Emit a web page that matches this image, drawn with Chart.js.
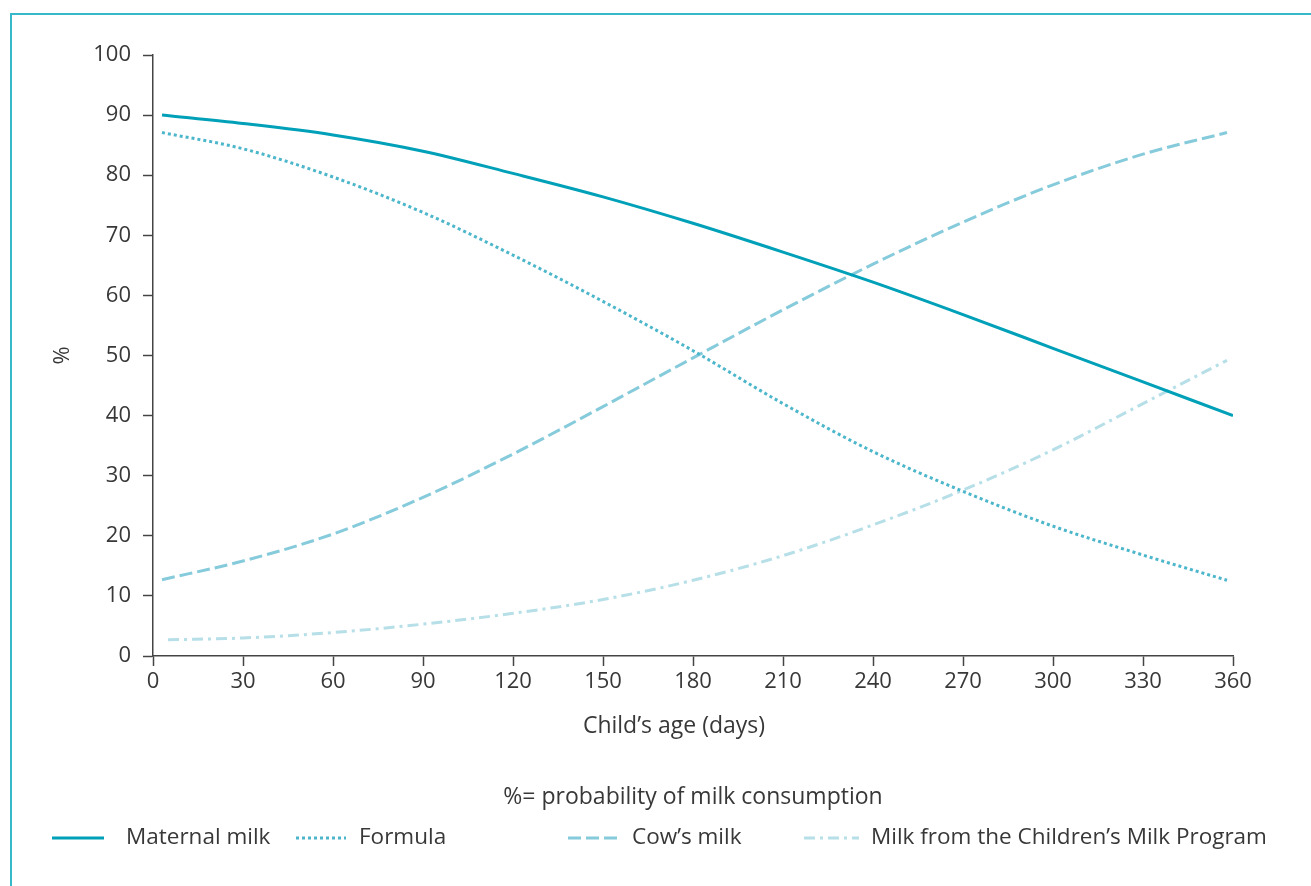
<!DOCTYPE html>
<html lang="en">
<head>
    <meta charset="UTF-8">
    <title>Milk consumption by child's age</title>
    <script src="https://cdn.jsdelivr.net/npm/chart.js"></script>
    <style>
        html, body {
            margin: 0;
            padding: 0;
            background: #fff;
            overflow: hidden;
        }
        .frame {
            position: absolute;
            left: 10px;
            top: 13px;
            width: 1400px;
            height: 1000px;
            border: 2px solid #35b9ca;
        }
        .chart-box {
            position: absolute;
            left: 0;
            top: 0;
            width: 1311px;
            height: 886px;
        }
    </style>
</head>
<body>
    <div class="frame"></div>
    <div class="chart-box">
        <canvas id="milkChart"></canvas>
    </div>

    <script>
        // values (x = child's age in days, y = %)
        const seriesNames = ['Maternal milk', 'Formula', 'Cow\u2019s milk', 'Milk from the Children\u2019s Milk Program'];

        const maternalDays = [3, 30, 60, 90, 120, 150, 180, 210, 240, 270, 300, 330, 360];
        const maternalPct  = [90, 88.6, 86.7, 84.0, 80.3, 76.4, 72.0, 67.2, 62.2, 56.8, 51.2, 45.6, 40.0];

        const formulaDays = [3, 30, 60, 90, 120, 150, 180, 210, 240, 270, 300, 330, 358];
        const formulaPct  = [87.1, 84.4, 79.7, 73.8, 66.7, 59.0, 50.8, 42.0, 34.0, 27.4, 21.6, 16.8, 12.6];

        const cowDays = [3, 30, 60, 90, 120, 150, 180, 210, 240, 270, 300, 330, 358];
        const cowPct  = [12.7, 15.8, 20.3, 26.4, 33.6, 41.5, 49.6, 57.6, 65.2, 72.2, 78.4, 83.5, 87.1];

        const programDays = [5, 30, 60, 90, 120, 150, 180, 210, 240, 270, 300, 330, 358];
        const programPct  = [2.7, 3.0, 3.9, 5.3, 7.1, 9.4, 12.6, 16.7, 21.8, 27.6, 34.3, 42.0, 49.2];

        const xTicks = [0, 30, 60, 90, 120, 150, 180, 210, 240, 270, 300, 330, 360];
        const yTicks = [0, 10, 20, 30, 40, 50, 60, 70, 80, 90, 100];

        const xTitle = 'Child\u2019s age (days)';
        const noteText = '%= probability of milk consumption';

        // legend placement (sample start, sample end, text start)
        const legendLayout = [
            [52, 104, 126],
            [296, 346, 359],
            [568, 620, 632],
            [804, 859, 871]
        ];

        const FONT = "'Open Sans', 'Noto Sans', sans-serif";
        const TEXT = '#383838';

        function toPoints(days, pct) {
            return days.map((d, i) => ({ x: d, y: pct[i] }));
        }

        // x title, note and legend sit below the axis, drawn by hand
        const bottomLegend = {
            id: 'bottomLegend',
            afterDraw(chart) {
                const ctx = chart.ctx;
                const area = chart.chartArea;
                ctx.save();
                ctx.fillStyle = TEXT;
                ctx.textAlign = 'center';
                ctx.textBaseline = 'middle';
                ctx.font = '23px ' + FONT;
                ctx.fillText(xTitle, 674, 726);
                ctx.fillText(noteText, (area.left + area.right) / 2, 797);

                ctx.font = '22.5px ' + FONT;
                ctx.textAlign = 'left';
                chart.data.datasets.forEach((ds, i) => {
                    const [x0, x1, tx] = legendLayout[i];
                    const y = 838;
                    ctx.beginPath();
                    ctx.setLineDash(ds.borderDash || []);
                    ctx.lineWidth = ds.borderWidth;
                    ctx.strokeStyle = ds.borderColor;
                    ctx.moveTo(x0, y);
                    ctx.lineTo(x1, y);
                    ctx.stroke();
                    ctx.setLineDash([]);
                    ctx.fillStyle = TEXT;
                    ctx.fillText(ds.label, tx, y);
                });
                ctx.restore();
            }
        };

        const ctx = document.getElementById('milkChart').getContext('2d');
        new Chart(ctx, {
            type: 'line',
            data: {
                datasets: [
                    {
                        label: seriesNames[0],
                        data: toPoints(maternalDays, maternalPct),
                        borderColor: '#00a1b8',
                        borderWidth: 3
                    },
                    {
                        label: seriesNames[1],
                        data: toPoints(formulaDays, formulaPct),
                        borderColor: '#4cb6cb',
                        borderWidth: 3,
                        borderDash: [3, 3]
                    },
                    {
                        label: seriesNames[2],
                        data: toPoints(cowDays, cowPct),
                        borderColor: '#86cbdb',
                        borderWidth: 3,
                        borderDash: [13, 5]
                    },
                    {
                        label: seriesNames[3],
                        data: toPoints(programDays, programPct),
                        borderColor: '#b6dfe8',
                        borderWidth: 3,
                        borderDash: [11, 5, 3, 5]
                    }
                ]
            },
            options: {
                responsive: true,
                maintainAspectRatio: false,
                animation: false,
                layout: {
                    padding: { left: 50, top: 55, right: 78, bottom: 140 }
                },
                elements: {
                    point: { radius: 0 },
                    line: { cubicInterpolationMode: 'monotone', fill: false }
                },
                plugins: {
                    legend: { display: false },
                    tooltip: { enabled: false }
                },
                scales: {
                    x: {
                        type: 'linear',
                        min: 0,
                        max: 360,
                        afterBuildTicks: (axis) => { axis.ticks = xTicks.map(v => ({ value: v })); },
                        afterFit: (axis) => { axis.height = 90; },
                        grid: { drawOnChartArea: false, tickLength: 10, tickColor: '#444', tickWidth: 1.5 },
                        border: { color: '#444', width: 1.5 },
                        ticks: { color: TEXT, padding: 3, font: { family: FONT, size: 22 } },
                        title: { display: false }
                    },
                    y: {
                        min: 0,
                        max: 100,
                        afterBuildTicks: (axis) => { axis.ticks = yTicks.map(v => ({ value: v })); },
                        afterFit: (axis) => { axis.width = 103; },
                        grid: { drawOnChartArea: false, tickLength: 10, tickColor: '#444', tickWidth: 1.5 },
                        border: { color: '#444', width: 1.5 },
                        ticks: { color: TEXT, padding: 12, font: { family: FONT, size: 22 } },
                        title: {
                            display: true,
                            text: '%',
                            color: TEXT,
                            padding: { top: 0, bottom: 0 },
                            font: { family: FONT, size: 22 }
                        }
                    }
                }
            },
            plugins: [bottomLegend]
        });
    </script>
</body>
</html>
